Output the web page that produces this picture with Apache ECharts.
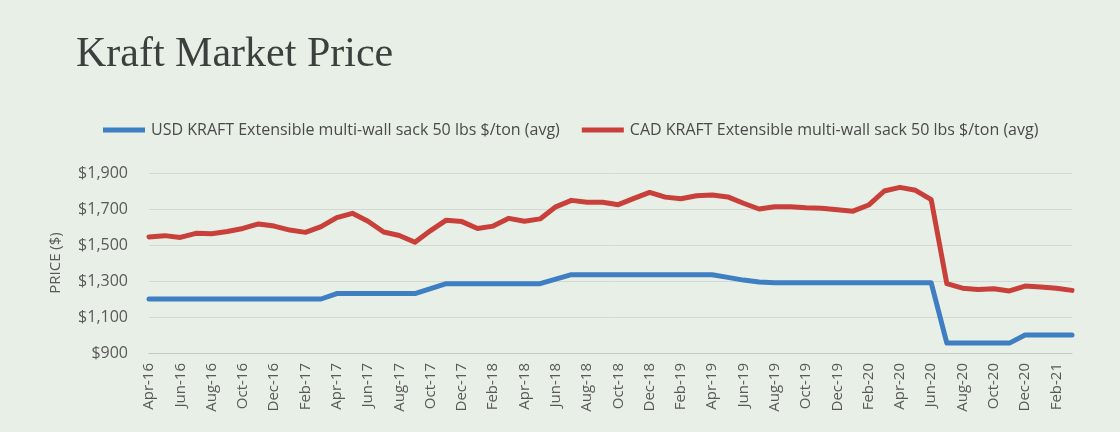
<!DOCTYPE html>
<html>
<head>
<meta charset="utf-8">
<title>Kraft Market Price</title>
<script src="https://cdn.jsdelivr.net/npm/echarts@6/dist/echarts.min.js"></script>
<style>
  html, body { margin: 0; padding: 0; background: #e8efe6; }
  #chart { width: 1120px; height: 432px; }
</style>
</head>
<body>
<div id="chart"></div>
<script>
// Monthly categories, Apr-16 through Mar-21
const months = [
  'Apr-16','May-16','Jun-16','Jul-16','Aug-16','Sep-16','Oct-16','Nov-16','Dec-16','Jan-17','Feb-17','Mar-17',
  'Apr-17','May-17','Jun-17','Jul-17','Aug-17','Sep-17','Oct-17','Nov-17','Dec-17','Jan-18','Feb-18','Mar-18',
  'Apr-18','May-18','Jun-18','Jul-18','Aug-18','Sep-18','Oct-18','Nov-18','Dec-18','Jan-19','Feb-19','Mar-19',
  'Apr-19','May-19','Jun-19','Jul-19','Aug-19','Sep-19','Oct-19','Nov-19','Dec-19','Jan-20','Feb-20','Mar-20',
  'Apr-20','May-20','Jun-20','Jul-20','Aug-20','Sep-20','Oct-20','Nov-20','Dec-20','Jan-21','Feb-21','Mar-21'
];

// USD price, $/ton (avg)
const usdKraft = [
  1200,1200,1200,1200,1200,1200,1200,1200,1200,1200,1200,1200,
  1230,1230,1230,1230,1230,1230,1258,1285,1285,1285,1285,1285,
  1285,1285,1310,1335,1335,1335,1335,1335,1335,1335,1335,1335,
  1335,1320,1305,1295,1290,1290,1290,1290,1290,1290,1290,1290,
  1290,1290,1290,955,955,955,955,955,1000,1000,1000,1000
];

// CAD price, $/ton (avg)
const cadKraft = [
  1545,1552,1542,1565,1562,1575,1592,1617,1605,1583,1570,1602,
  1652,1676,1632,1572,1553,1515,1580,1638,1630,1592,1605,1648,
  1632,1645,1712,1748,1738,1737,1724,1759,1792,1766,1757,1774,
  1778,1767,1732,1700,1713,1712,1707,1704,1696,1688,1722,1800,
  1820,1804,1752,1285,1260,1253,1257,1245,1272,1267,1260,1248
];

const seriesNames = [
  'USD KRAFT Extensible multi-wall sack 50 lbs $/ton (avg)',
  'CAD KRAFT Extensible multi-wall sack 50 lbs $/ton (avg)'
];

const yTicks = { min: 900, max: 1900, step: 200 };

const chart = echarts.init(document.getElementById('chart'), null, { renderer: 'canvas' });

const sans = '"Open Sans", "Noto Sans", sans-serif';

chart.setOption({
  backgroundColor: '#e8efe6',
  animation: false,
  title: {
    text: 'Kraft Market Price',
    left: 71,
    top: 29,
    textStyle: {
      fontFamily: '"Liberation Serif", "DejaVu Serif", serif',
      fontWeight: 'normal',
      fontSize: 42,
      color: '#3b3f3d'
    }
  },
  legend: {
    left: 98,
    top: 117,
    itemWidth: 42,
    itemHeight: 5,
    itemGap: 22,
    icon: 'rect',
    textStyle: {
      color: '#4a4a4a',
      fontFamily: sans,
      fontSize: 16,
      padding: [0, 0, 0, 1]
    },
    data: seriesNames
  },
  grid: { left: 149, right: 48, top: 173, bottom: 79, containLabel: false },
  xAxis: {
    type: 'category',
    data: months,
    boundaryGap: false,
    axisLine: { lineStyle: { color: '#c4c8c4', width: 1 } },
    axisTick: { show: false },
    axisLabel: {
      interval: 1,
      rotate: 90,
      margin: 10,
      color: '#595959',
      fontFamily: sans,
      fontSize: 15
    },
    splitLine: { show: false }
  },
  yAxis: {
    type: 'value',
    min: yTicks.min,
    max: yTicks.max,
    interval: yTicks.step,
    name: 'PRICE ($)',
    nameLocation: 'middle',
    nameGap: 86,
    nameRotate: 90,
    nameTextStyle: { color: '#595959', fontFamily: sans, fontSize: 15 },
    axisLine: { show: false },
    axisTick: { show: false },
    axisLabel: {
      margin: 21,
      color: '#595959',
      fontFamily: sans,
      fontSize: 16,
      formatter: v => '$' + v.toLocaleString('en-US')
    },
    splitLine: { lineStyle: { color: '#d3d8d2', width: 1 } }
  },
  series: [
    {
      name: seriesNames[0],
      type: 'line',
      data: usdKraft,
      showSymbol: false,
      symbol: 'none',
      lineStyle: { color: '#3d7fc2', width: 5, join: 'round', cap: 'round' },
      itemStyle: { color: '#3d7fc2' }
    },
    {
      name: seriesNames[1],
      type: 'line',
      data: cadKraft,
      showSymbol: false,
      symbol: 'none',
      lineStyle: { color: '#c9403a', width: 5, join: 'round', cap: 'round' },
      itemStyle: { color: '#c9403a' }
    }
  ]
});
</script>
</body>
</html>
